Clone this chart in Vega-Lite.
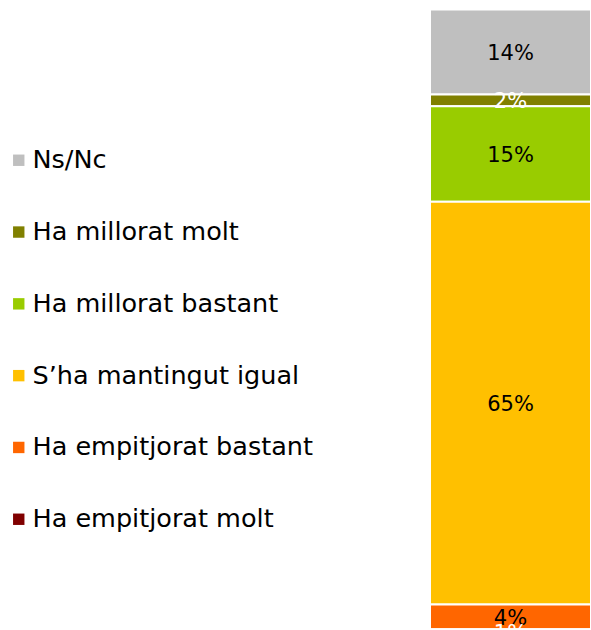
{
  "$schema": "https://vega.github.io/schema/vega-lite/v6.json",
  "autosize": {"type": "none"},
  "padding": {"left": 430, "top": 9.5, "right": 0, "bottom": 0},
  "width": 161,
  "height": 626,
  "background": "white",
  "config": {"view": {"stroke": null}, "font": "DejaVu Sans"},
  "data": {
    "values": [
      {"grp": "A", "cat": "Ns/Nc", "value": 13.7, "label": "14%", "rank": 6},
      {"grp": "A", "cat": "Ha millorat molt", "value": 1.9, "label": "2%", "rank": 5},
      {"grp": "A", "cat": "Ha millorat bastant", "value": 15.4, "label": "15%", "rank": 4},
      {"grp": "A", "cat": "S’ha mantingut igual", "value": 65.0, "label": "65%", "rank": 3},
      {"grp": "A", "cat": "Ha empitjorat bastant", "value": 4.0, "label": "4%", "rank": 2},
      {"grp": "A", "cat": "Ha empitjorat molt", "value": 1.0, "label": "1%", "rank": 1}
    ]
  },
  "encoding": {
    "x": {"field": "grp", "type": "nominal", "axis": null, "scale": {"paddingInner": 0, "paddingOuter": 0}},
    "order": {"field": "rank", "type": "quantitative"}
  },
  "layer": [
    {
      "mark": {"type": "bar", "stroke": "white", "strokeWidth": 2},
      "encoding": {
        "y": {"field": "value", "type": "quantitative", "stack": "zero", "axis": null, "scale": {"domain": [0, 101], "nice": false}},
        "color": {
          "field": "cat",
          "type": "nominal",
          "sort": null,
          "scale": {
            "domain": ["Ns/Nc", "Ha millorat molt", "Ha millorat bastant", "S’ha mantingut igual", "Ha empitjorat bastant", "Ha empitjorat molt"],
            "range": ["#BFBFBF", "#808000", "#99CC00", "#FFC000", "#FF6600", "#800000"]
          },
          "legend": {
            "title": null,
            "orient": "none",
            "legendX": -424,
            "legendY": 138,
            "padding": 0,
            "symbolType": "square",
            "symbolSize": 130,
            "symbolStrokeWidth": 0,
            "labelFont": "DejaVu Sans",
            "labelFontSize": 25.5,
            "labelColor": "#000000",
            "labelOffset": 1,
            "rowPadding": 44.8,
            "labelLimit": 400
          }
        }
      }
    },
    {
      "mark": {"type": "text", "font": "DejaVu Sans", "fontSize": 21, "baseline": "middle", "align": "center", "dy": 2},
      "encoding": {
        "y": {"field": "value", "type": "quantitative", "stack": "zero", "bandPosition": 0.5},
        "text": {"field": "label"},
        "color": {
          "condition": {"test": "datum.cat === 'Ha millorat molt' || datum.cat === 'Ha empitjorat molt'", "value": "white"},
          "value": "black"
        }
      }
    }
  ]
}
